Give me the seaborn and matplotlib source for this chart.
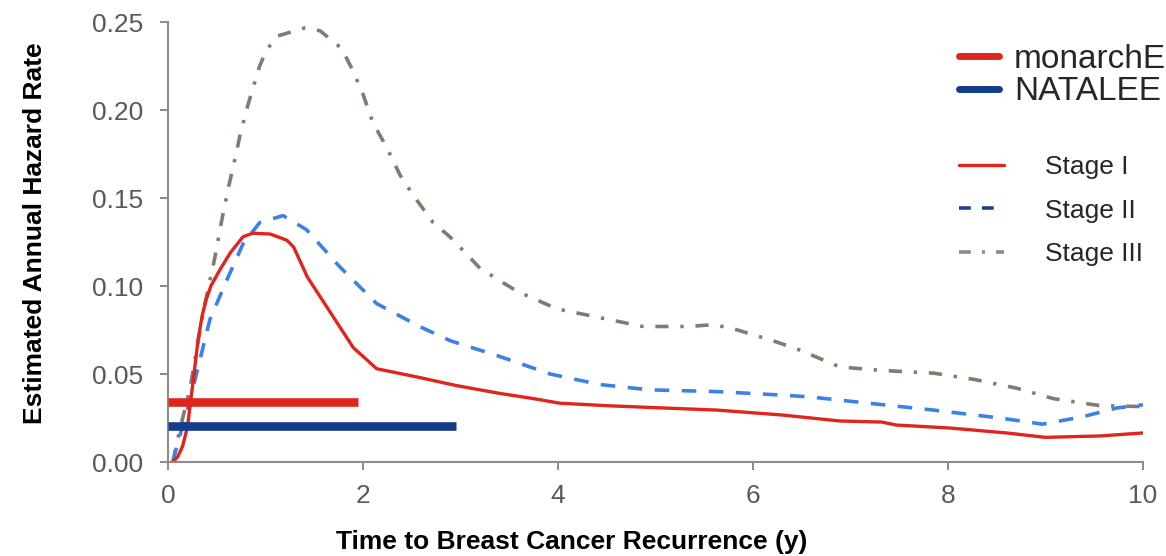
import matplotlib
matplotlib.use("Agg")
import matplotlib.pyplot as plt
from matplotlib.lines import Line2D
import numpy as np
import pandas as pd
import seaborn as sns

# ---- data -------------------------------------------------------------
stage1_t = [0.05, 0.10, 0.15, 0.20, 0.26, 0.31, 0.35, 0.39, 0.44, 0.53, 0.64, 0.77, 0.87,
            1.05, 1.22, 1.29, 1.43, 1.63, 1.90, 2.04, 2.14, 2.58, 2.95, 3.40, 3.75,
            4.02, 4.50, 4.94, 5.63, 6.30, 6.89, 7.32, 7.47, 8.02, 8.60, 9.00, 9.56, 10.0]
stage1_v = [0.000, 0.003, 0.009, 0.020, 0.047, 0.070, 0.083, 0.092, 0.100, 0.109, 0.119, 0.128, 0.130,
            0.1295, 0.126, 0.122, 0.105, 0.088, 0.065, 0.058, 0.053, 0.048, 0.0435, 0.039, 0.036,
            0.0334, 0.032, 0.031, 0.0295, 0.0267, 0.0233, 0.0227, 0.021, 0.0193, 0.0165, 0.014, 0.0148, 0.0165]

stage2_t = [0.05, 0.09, 0.17, 0.26, 0.43, 0.60, 0.77, 0.94, 1.18, 1.42, 1.76, 2.14, 2.58,
            2.89, 3.40, 3.92, 4.43, 4.94, 5.63, 6.30, 6.58, 7.17, 7.85, 8.53, 8.97, 9.38, 9.73, 10.0]
stage2_v = [0.000, 0.009, 0.024, 0.043, 0.081, 0.103, 0.124, 0.136, 0.140, 0.132, 0.111, 0.090, 0.077,
            0.069, 0.060, 0.050, 0.044, 0.041, 0.040, 0.038, 0.037, 0.0335, 0.0295, 0.025, 0.0215, 0.0257, 0.0307, 0.0325]

stage3_t = [0.05, 0.12, 0.23, 0.36, 0.48, 0.55, 0.62, 0.69, 0.74, 0.81, 0.88, 0.94, 1.01, 1.12,
            1.40, 1.56, 1.78, 1.90, 2.00, 2.10, 2.25, 2.38, 2.51, 2.72, 2.89, 3.10, 3.20, 3.58,
            3.99, 4.43, 4.87, 5.33, 5.59, 5.78, 6.20, 6.48, 6.89, 7.33, 7.85, 8.26, 8.70, 9.08, 9.56, 10.0]
stage3_v = [0.000, 0.018, 0.043, 0.085, 0.116, 0.137, 0.156, 0.173, 0.186, 0.201, 0.214, 0.225, 0.234, 0.242,
            0.2466, 0.245, 0.235, 0.222, 0.209, 0.193, 0.178, 0.163, 0.152, 0.136, 0.128, 0.116, 0.110, 0.097,
            0.087, 0.082, 0.077, 0.077, 0.078, 0.076, 0.069, 0.0636, 0.054, 0.052, 0.0505, 0.047, 0.042, 0.036, 0.032, 0.0315]

# trial reference lines: annual hazard and follow-up length
trial_names = ["monarchE", "NATALEE"]
trial_rate = [0.034, 0.0205]
trial_followup = [1.95, 2.95]

stage_names = ["Stage I", "Stage II", "Stage III"]

x_ticks = [0, 2, 4, 6, 8, 10]
y_ticks = [0.00, 0.05, 0.10, 0.15, 0.20, 0.25]

# ---- style ------------------------------------------------------------
sns.set_style("white")
plt.rcParams["font.family"] = ["Liberation Sans", "DejaVu Sans"]
plt.rcParams["lines.scale_dashes"] = False

RED = "#E0251C"
NAVY = "#123D8A"
LIGHT_BLUE = "#3A82E8"
GRAY = "#847A72"
AXIS_GRAY = "#8C8C8C"
TICK_TEXT = "#595959"

fig = plt.figure(figsize=(11.66, 5.56), dpi=100)
ax = fig.add_axes([168 / 1166, 94 / 556, 975 / 1166, 440 / 556])

df3 = pd.DataFrame({"t": stage3_t, "v": stage3_v})
df2 = pd.DataFrame({"t": stage2_t, "v": stage2_v})
df1 = pd.DataFrame({"t": stage1_t, "v": stage1_v})

sns.lineplot(data=df3, x="t", y="v", ax=ax, color=GRAY, lw=2.6,
             linestyle=(0, (9.5, 8.5, 2.4, 8.5)), estimator=None, sort=False)
sns.lineplot(data=df2, x="t", y="v", ax=ax, color=LIGHT_BLUE, lw=2.6,
             linestyle=(0, (10.5, 9.0)), estimator=None, sort=False)
sns.lineplot(data=df1, x="t", y="v", ax=ax, color=RED, lw=2.4,
             estimator=None, sort=False)

trial_colors = [RED, NAVY]
for rate, end, col in zip(trial_rate, trial_followup, trial_colors):
    ax.hlines(rate, 0, end, colors=col, lw=6.2, zorder=5)

ax.set_xlim(0, 10)
ax.set_ylim(0, 0.25)
ax.set_xticks(x_ticks)
ax.set_xticklabels([str(v) for v in x_ticks])
ax.set_yticks(y_ticks)
ax.set_yticklabels([f"{v:.2f}" for v in y_ticks])

for side in ["top", "right"]:
    ax.spines[side].set_visible(False)
for side in ["left", "bottom"]:
    ax.spines[side].set_color(AXIS_GRAY)
    ax.spines[side].set_linewidth(1.5)

ax.tick_params(axis="both", which="major", direction="out", length=5.8, width=1.4,
               color=AXIS_GRAY, labelcolor=TICK_TEXT, labelsize=19)
ax.tick_params(axis="y", pad=12)
ax.tick_params(axis="x", pad=10)
ax.tick_params(left=True, bottom=True)

ax.set_xlabel("Time to Breast Cancer Recurrence (y)", fontsize=19, fontweight="bold", color="black")
ax.set_ylabel("Estimated Annual Hazard Rate", fontsize=19, fontweight="bold", color="black")
ax.xaxis.set_label_coords((572 - 168) / 975, (462 - 530) / 440)
ax.yaxis.set_label_coords((47 - 168) / 975, (462 - 233) / 440)

# legends
trial_handles = [Line2D([], [], color=c, lw=5) for c in trial_colors]
leg1 = fig.legend(trial_handles, trial_names, loc="upper left",
                  bbox_to_anchor=(959 / 1166, 1 - 44 / 556), frameon=False,
                  fontsize=24, handlelength=1.2, handletextpad=0.45,
                  labelspacing=0.04, borderpad=0, borderaxespad=0)
for txt in leg1.get_texts():
    txt.set_color("#262626")

stage_handles = [
    Line2D([], [], color=RED, lw=2.4),
    Line2D([], [], color="#1F3F8F", lw=2.6, linestyle=(0, (8.5, 8))),
    Line2D([], [], color="#8A8A8A", lw=2.6, linestyle=(0, (8.5, 8, 2.2, 8))),
]
leg2 = fig.legend(stage_handles, stage_names, loc="upper left",
                  bbox_to_anchor=(959 / 1166, 1 - 155 / 556), frameon=False,
                  fontsize=19, handlelength=1.7, handletextpad=1.55,
                  labelspacing=0.74, borderpad=0, borderaxespad=0)

fig.savefig("out.png", dpi=100)
